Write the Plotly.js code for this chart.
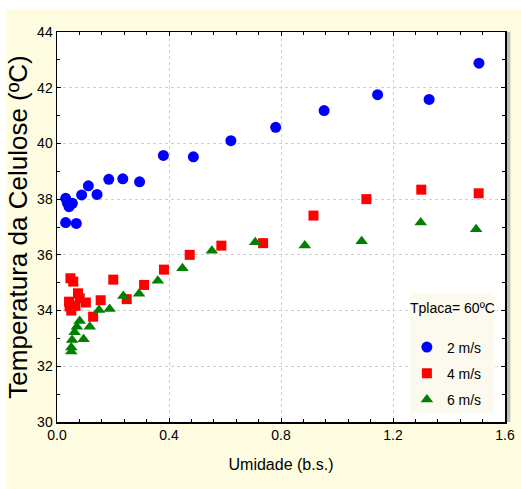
<!DOCTYPE html>
<html>
<head>
<meta charset="utf-8">
<script src="https://cdn.plot.ly/plotly-3.0.1.min.js"></script>
<style>html,body{margin:0;padding:0;background:#fff;}#chart{width:521px;height:489px;}</style>
</head>
<body>
<div id="chart"></div>
<script>
var seriesNames = ["2 m/s", "4 m/s", "6 m/s"];
var legendTitle = "Tplaca= 60ºC";

var blueX = [0.031,0.037,0.043,0.055,0.031,0.069,0.088,0.112,0.143,0.185,0.235,0.295,0.380,0.487,0.621,0.781,0.954,1.145,1.329,1.507];
var blueY = [38.03,37.87,37.73,37.85,37.16,37.13,38.15,38.48,38.17,38.71,38.73,38.62,39.57,39.52,40.10,40.58,41.18,41.75,41.58,42.88];

var redX = [0.048,0.058,0.043,0.045,0.051,0.066,0.075,0.081,0.103,0.129,0.156,0.201,0.249,0.311,0.382,0.474,0.587,0.736,0.916,1.105,1.301,1.506];
var redY = [35.16,35.04,34.32,34.15,34.00,34.17,34.62,34.44,34.29,33.78,34.37,35.11,34.41,34.92,35.47,36.00,36.33,36.42,37.41,38.00,38.34,38.21];

var greenX = [0.051,0.051,0.054,0.063,0.071,0.081,0.095,0.117,0.150,0.188,0.237,0.293,0.360,0.448,0.553,0.708,0.885,1.088,1.299,1.497];
var greenY = [32.53,32.67,32.94,33.22,33.42,33.63,32.97,33.42,34.02,34.06,34.52,34.60,35.07,35.52,36.15,36.45,36.34,36.49,37.16,36.92];

var xTickVals = [0.0, 0.4, 0.8, 1.2, 1.6];
var xTickText = ["0.0", "0.4", "0.8", "1.2", "1.6"];
var yTickVals = [30, 32, 34, 36, 38, 40, 42, 44];

var fam = "'Liberation Sans', Arial, sans-serif";

var traces = [
  {x: blueX, y: blueY, name: seriesNames[0], legendgroup: "a", type: "scatter", mode: "markers",
   marker: {symbol: "circle", size: 11, color: "#0000ff"}},
  {x: redX, y: redY, name: seriesNames[1], legendgroup: "b", type: "scatter", mode: "markers",
   marker: {symbol: "square", size: 10, color: "#ff0000"}},
  {x: greenX, y: greenY, name: seriesNames[2], legendgroup: "c", type: "scatter", mode: "markers",
   marker: {symbol: "triangle-up", size: 11, color: "#008000"}}
];

var layout = {
  width: 521, height: 489,
  margin: {l: 57, r: 16, t: 32, b: 67, pad: 0},
  paper_bgcolor: "#ffffff",
  plot_bgcolor: "#ffffff",
  showlegend: true,
  font: {family: fam, size: 14, color: "#000"},
  xaxis: {
    range: [0, 1.6], tickvals: xTickVals, ticktext: xTickText,
    ticks: "inside", ticklen: 4, tickcolor: "#000", tickwidth: 1,
    showline: true, linecolor: "#000", linewidth: 1.5, mirror: "allticks",
    showgrid: true, gridcolor: "#cfcfcf", griddash: "dot", gridwidth: 1,
    zeroline: false,
    minor: {dtick: 0.08, ticks: "inside", ticklen: 3, tickcolor: "#000", showgrid: false},
    tickfont: {family: fam, size: 14},
    title: {text: "Umidade (b.s.)", font: {family: fam, size: 16}, standoff: 16}
  },
  yaxis: {
    range: [30, 44], tickvals: yTickVals,
    ticks: "inside", ticklen: 4, tickcolor: "#000", tickwidth: 1,
    showline: true, linecolor: "#000", linewidth: 1.5, mirror: "allticks",
    showgrid: true, gridcolor: "#cfcfcf", griddash: "dot", gridwidth: 1,
    zeroline: false,
    minor: {dtick: 1, ticks: "inside", ticklen: 3, tickcolor: "#000", showgrid: false},
    tickfont: {family: fam, size: 14},
    title: {text: "Temperatura da Celulose (ºC)", font: {family: fam, size: 26}, standoff: 2}
  },
  legend: {
    x: 0.781, y: 0.232, xanchor: "left", yanchor: "top",
    bgcolor: "rgba(0,0,0,0)", borderwidth: 0,
    font: {family: fam, size: 14},
    tracegroupgap: 5
  },
  annotations: [
    {text: legendTitle, xref: "paper", yref: "paper", x: 0.882, y: 0.292,
     xanchor: "center", yanchor: "middle", showarrow: false, font: {family: fam, size: 14, color: "#000"}}
  ],
  shapes: [
    {type: "rect", xref: "paper", yref: "paper", x0: -0.114, x1: 1.04, y0: -0.2, y1: 1.059,
     fillcolor: "#fffde1", line: {width: 0}, layer: "below"},
    {type: "rect", xref: "paper", yref: "paper", x0: 1.0, x1: 1.012, y0: 0, y1: 1,
     fillcolor: "#bdbdbd", line: {width: 0}, layer: "below"},
    {type: "rect", xref: "paper", yref: "paper", x0: 0, x1: 1, y0: 0, y1: 1,
     fillcolor: "#ffffff", line: {width: 0}, layer: "below"},
    {type: "rect", xref: "paper", yref: "paper", x0: 0.788, x1: 0.975, y0: 0.023, y1: 0.331,
     fillcolor: "#fcf9ee", line: {width: 0}, layer: "above"}
  ]
};

Plotly.newPlot("chart", traces, layout, {displayModeBar: false, staticPlot: true});
</script>
</body>
</html>
